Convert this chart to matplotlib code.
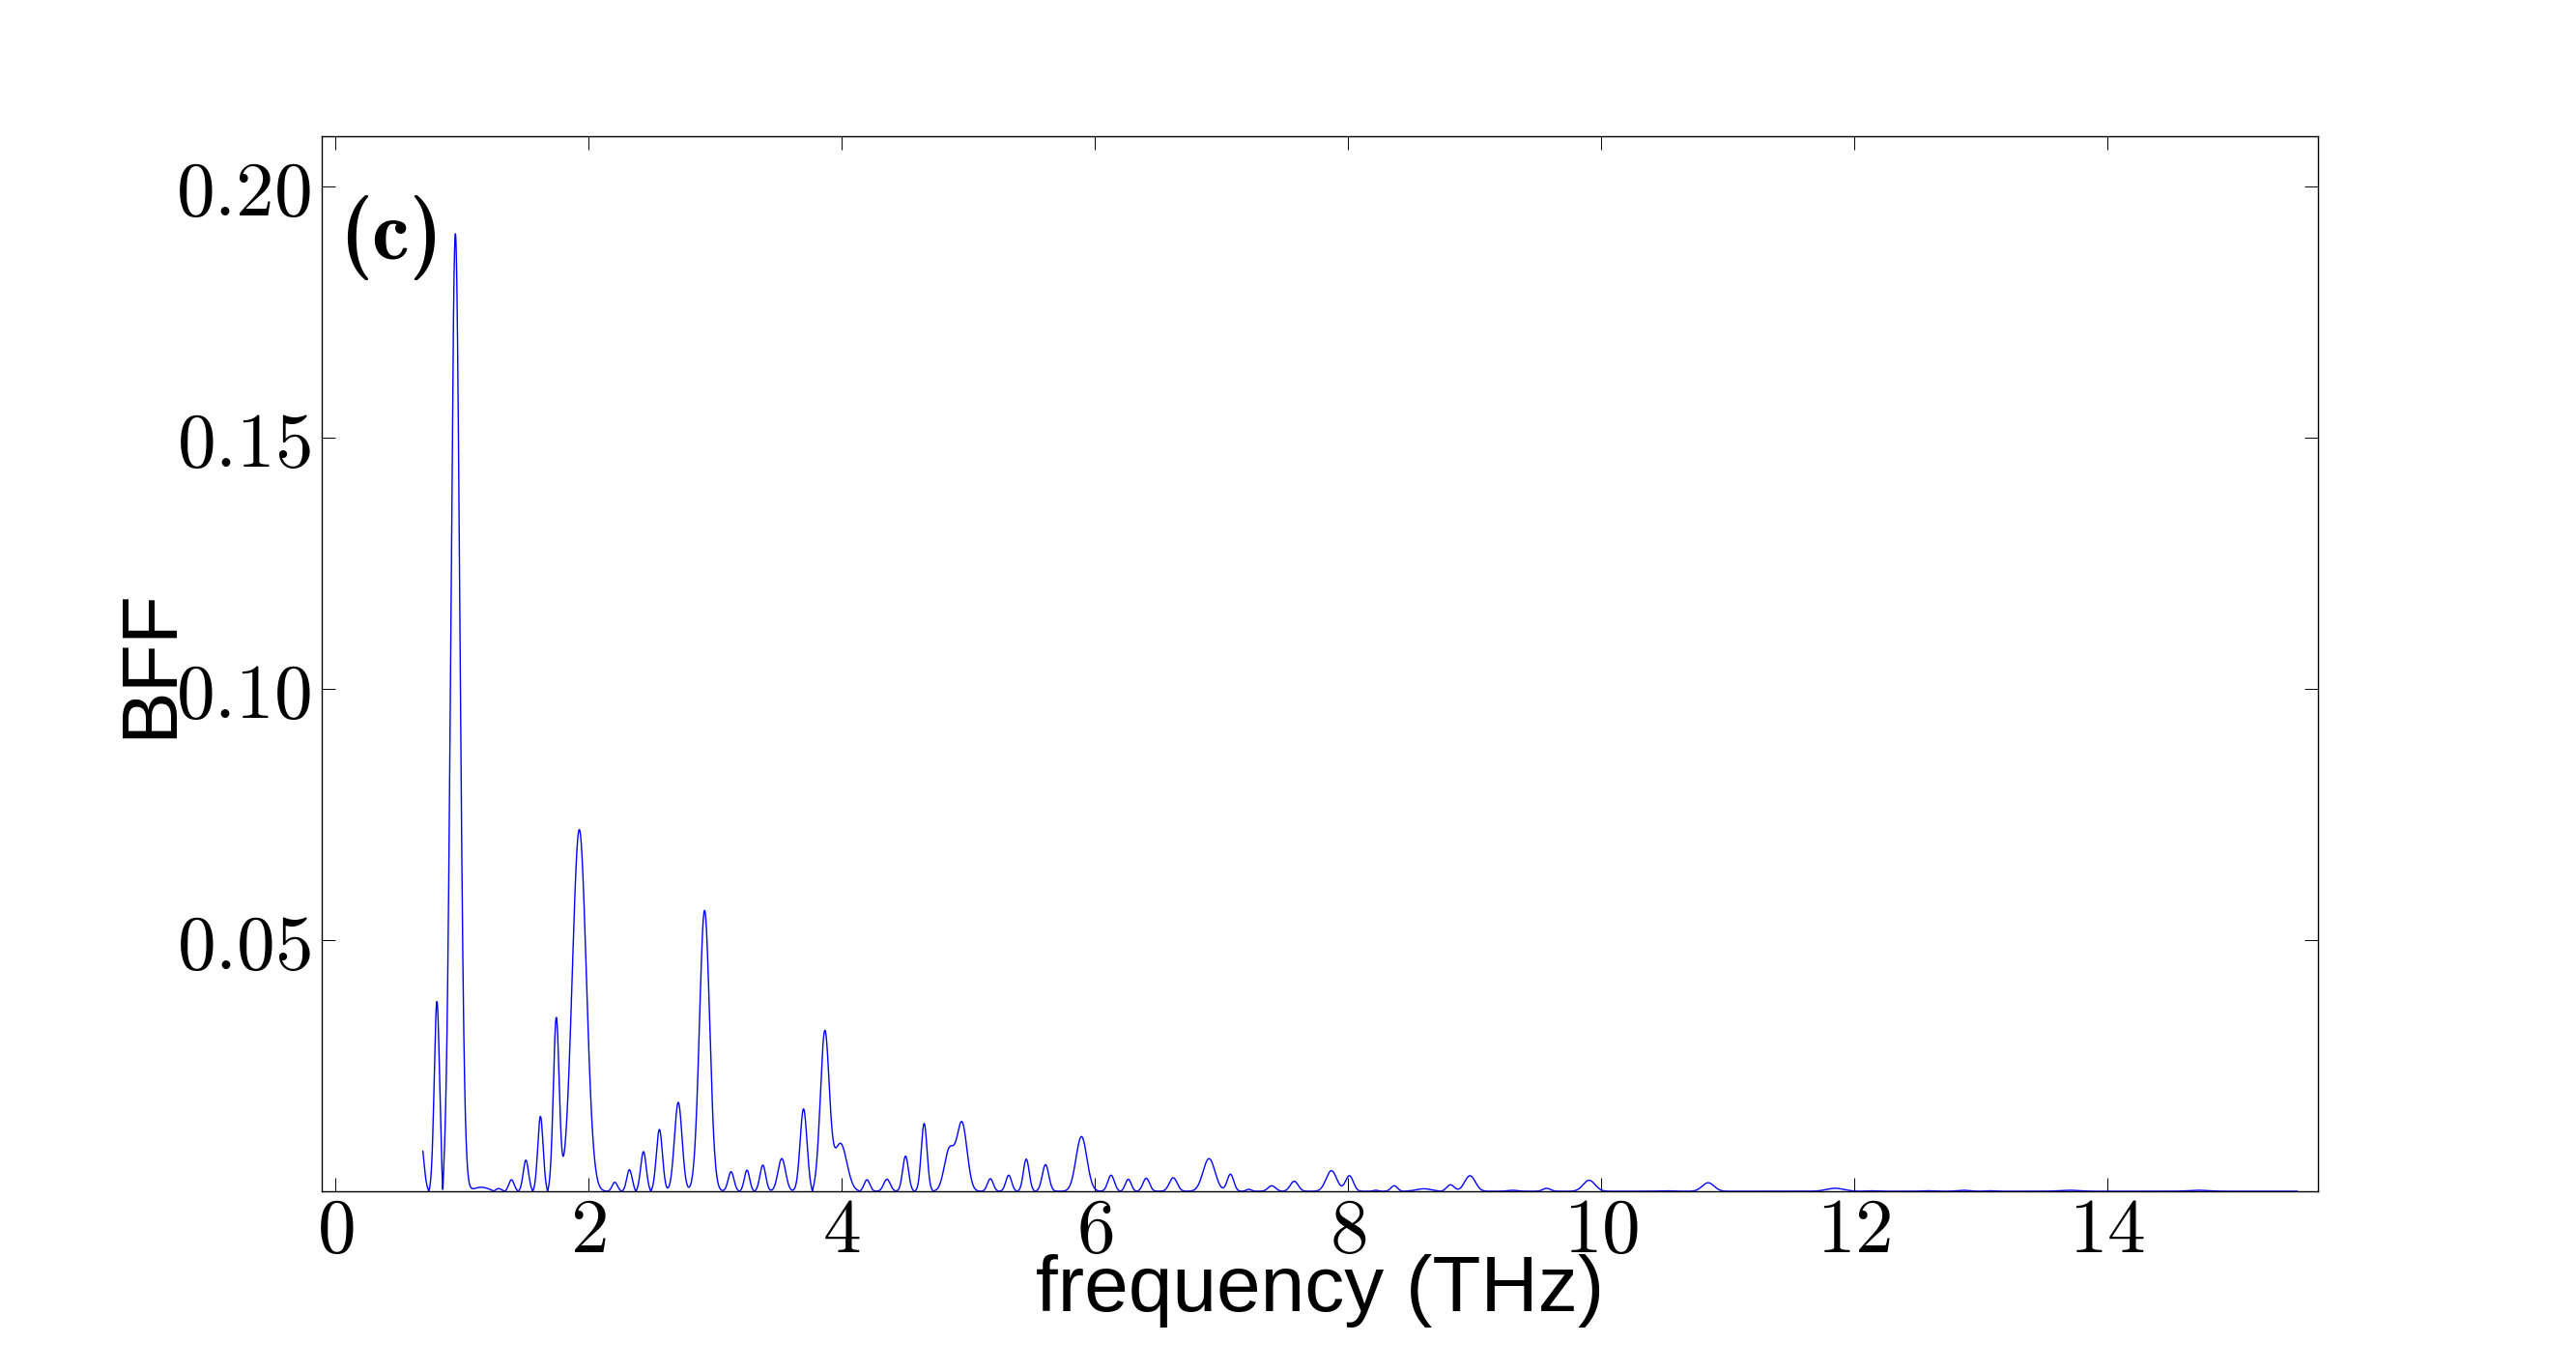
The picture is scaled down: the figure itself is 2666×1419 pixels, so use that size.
import os
import numpy as np
import matplotlib
matplotlib.use('Agg')
import matplotlib.pyplot as plt
from matplotlib.ticker import FixedLocator, FuncFormatter
from matplotlib.font_manager import FontProperties

# peaks: centre (THz), height, width (THz), phase sign
peak_freq = [0.67, 0.801, 0.947, 1.15, 1.286, 1.39, 1.504, 1.619, 1.744, 1.926,
             2.207, 2.322, 2.433, 2.559, 2.708, 2.916, 3.125, 3.251, 3.376, 3.526,
             3.698, 3.866, 3.99, 4.199, 4.357, 4.504, 4.651, 4.85, 4.95, 5.174,
             5.319, 5.458, 5.61, 5.894, 6.128, 6.264, 6.406, 6.619, 6.902, 7.071,
             7.215, 7.398, 7.575, 7.869, 8.011, 8.22, 8.365, 8.6, 8.81, 8.964,
             9.3, 9.57, 9.905, 10.5, 10.846, 11.85, 12.13, 12.59, 12.86, 13.08,
             13.7, 14.72]
peak_height = [0.011, 0.0378, 0.1906, 0.0008, 0.0006, 0.0023, 0.0062, 0.0149, 0.0343, 0.0720,
               0.0018, 0.0043, 0.0079, 0.0123, 0.0177, 0.0559, 0.0039, 0.0042, 0.0052, 0.0065,
               0.0164, 0.0316, 0.0095, 0.0023, 0.0024, 0.0070, 0.0135, 0.0082, 0.0135, 0.0025,
               0.0032, 0.0064, 0.0053, 0.0109, 0.0032, 0.0024, 0.0026, 0.0027, 0.0065, 0.0034,
               0.0004, 0.0011, 0.0020, 0.0041, 0.0031, 0.0002, 0.0011, 0.0005, 0.0013, 0.0031,
               0.0002, 0.0006, 0.0022, 0.0001, 0.0017, 0.0006, 0.0001, 0.0001, 0.0002, 0.0001,
               0.0002, 0.0002]
peak_width = [0.025, 0.021, 0.035, 0.06, 0.025, 0.021, 0.021, 0.021, 0.023, 0.055,
              0.021, 0.021, 0.022, 0.024, 0.03, 0.04, 0.023, 0.021, 0.023, 0.03,
              0.027, 0.035, 0.05, 0.023, 0.026, 0.023, 0.023, 0.04, 0.04, 0.023,
              0.023, 0.023, 0.026, 0.043, 0.026, 0.023, 0.026, 0.031, 0.047, 0.026,
              0.02, 0.03, 0.031, 0.042, 0.031, 0.02, 0.026, 0.06, 0.03, 0.042,
              0.04, 0.03, 0.047, 0.05, 0.047, 0.07, 0.04, 0.05, 0.05, 0.04,
              0.08, 0.08]
peak_sign = [1, -1, 1, 1, -1, 1, -1, 1, -1, -1,
             1, -1, 1, -1, -1, -1, -1, 1, -1, -1,
             -1, 1, 1, -1, -1, -1, 1, -1, -1, 1,
             -1, 1, -1, 1, 1, -1, 1, -1, 1, 1,
             -1, 1, -1, 1, 1, -1, 1, -1, 1, 1,
             -1, 1, -1, 1, -1, 1, -1, 1, -1, 1,
             -1, 1]
f_start, f_stop = 0.69, 15.5

x_ticks = [0, 2, 4, 6, 8, 10, 12, 14]
y_ticks = [0.05, 0.10, 0.15, 0.20]

freq = np.linspace(f_start, f_stop, 12000)
amp = np.zeros_like(freq)
for c, h, w, s in zip(peak_freq, peak_height, peak_width, peak_sign):
    amp += s*h*np.exp(-0.5*((freq-c)/w)**2)
bff = np.abs(amp)

matplotlib.rcParams['mathtext.fontset'] = 'cm'
font_label = {'family': 'Liberation Sans', 'size': 59}
cm_bold = FontProperties(fname=os.path.join(matplotlib.get_data_path(), 'fonts', 'ttf', 'cmb10.ttf'), size=63)

fig = plt.figure(figsize=(26.66, 14.19), dpi=100)
ax1 = fig.add_axes([333/2666, 1-1233/1419, 2066/2666, 1092/1419])

ax1.plot(freq, bff, color='blue', lw=1.0)

ax1.set_xlim(-0.109, 15.665)
ax1.set_ylim(0, 0.21)
ax1.xaxis.set_major_locator(FixedLocator(x_ticks))
ax1.yaxis.set_major_locator(FixedLocator(y_ticks))
ax1.xaxis.set_major_formatter(FuncFormatter(lambda v, p: r'$%d$' % v))
ax1.yaxis.set_major_formatter(FuncFormatter(lambda v, p: r'$%.2f$' % v))
ax1.tick_params(axis='both', direction='in', length=10, width=0.7,
                top=True, right=True, labelsize=57)
ax1.tick_params(axis='x', pad=2)
ax1.tick_params(axis='y', pad=8)
for sp in ax1.spines.values():
    sp.set_linewidth(1.0)

ax1.set_xlabel('frequency (THz)', **font_label)
ax1.set_ylabel('BFF', **font_label)
ax1.xaxis.set_label_coords(0.5, -0.0595)
ax1.yaxis.set_label_coords(-0.067, 0.5)

ax1.text(0.009, 0.944, '(c)', transform=ax1.transAxes,
         ha='left', va='top', fontproperties=cm_bold)

plt.savefig('out.png', dpi=100)
